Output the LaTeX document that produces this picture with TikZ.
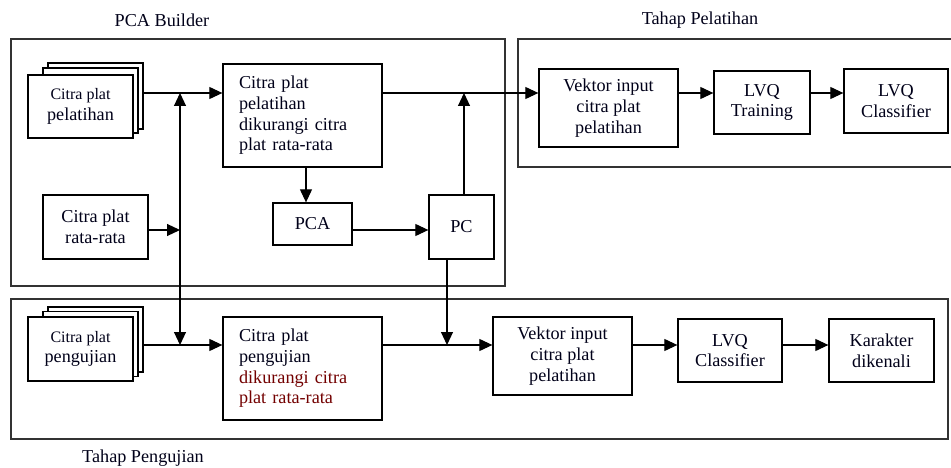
\documentclass[tikz,border=0pt]{standalone}
\usepackage{fontspec}
\setmainfont{Liberation Serif}
\usetikzlibrary{arrows.meta}
\begin{document}
\begin{tikzpicture}[x=1pt,y=-1pt,
  every node/.style={font=\fontsize{18.2}{20.7}\selectfont, text=black!90!blue},
  box/.style={draw, line width=1.3pt, inner sep=0pt, align=center},
  lbox/.style={draw, line width=1.3pt, inner ysep=0pt, inner xsep=16pt, align=left, text width=127pt, minimum height=103pt},
  frame/.style={draw=black!80, line width=1.5pt},
  arr/.style={line width=1.1pt, -{Triangle[length=13pt,width=12pt]}},
  darr/.style={line width=1.1pt, {Triangle[length=13pt,width=12pt]}-{Triangle[length=13pt,width=12pt]}}]
\useasboundingbox (0,0) rectangle (951,468);
\fill[white] (0,0) rectangle (951,468);
% frames
\draw[frame] (11,39) rectangle (505,286);
\draw[frame] (518,39) rectangle (955,167);
\draw[frame] (11,299) rectangle (948,439);
\node (lab1) at (162,20) {PCA Builder};
\node (lab2) at (700,20) {Tahap Pelatihan};
\node (lab3) at (143,458) {Tahap Pengujian};
% reference coordinates
\coordinate (r1) at (0,93);
\coordinate (r2) at (0,345);
\coordinate (j1) at (180,93);
\coordinate (j2) at (180,345);
% stack 1
\node[box, fill=white, minimum width=95pt, minimum height=66pt] (s1c) at (95.5,96) {};
\node[box, fill=white, minimum width=95pt, minimum height=65pt] (s1b) at (90.5,100.5) {};
\node[box, fill=white, minimum width=105pt, minimum height=63pt] (s1) at (80.5,106.5) {{\fontsize{16}{20}\selectfont Citra plat}\\pelatihan};
% stack 2
\node[box, fill=white, minimum width=95pt, minimum height=65pt] (s2c) at (95.5,339.5) {};
\node[box, fill=white, minimum width=95pt, minimum height=65pt] (s2b) at (90.5,344) {};
\node[box, fill=white, minimum width=105pt, minimum height=64pt] (s2) at (80.5,349) {{\fontsize{16}{20}\selectfont Citra plat}\\pengujian};
% top boxes
\node[box, minimum width=105pt, minimum height=64pt] (avg) at (95.5,227) {Citra plat\\rata-rata};
\node[lbox] (sub1) at (302.5,115.5) {Citra plat\\pelatihan\\dikurangi citra\\plat rata-rata};
\node[box, minimum width=79pt, minimum height=42pt] (pca) at (312.5,224) {PCA};
\node[box, minimum width=65pt, minimum height=64pt] (pc) at (461.5,227) {PC};
\node[box, minimum width=139pt, minimum height=78pt] (vek1) at (608.5,108) {Vektor input\\citra plat\\pelatihan};
\node[box, minimum width=96pt, minimum height=63pt] (lvqt) at (762,102.5) {LVQ\\Training};
\node[box, minimum width=104pt, minimum height=64pt] (lvqc1) at (896,101) {LVQ\\Classifier};
% bottom boxes
\node[lbox] (sub2) at (302.5,368.5) {Citra plat\\pengujian\\\textcolor{red!45!black}{dikurangi citra}\\\textcolor{red!45!black}{plat rata-rata}};
\node[box, minimum width=139pt, minimum height=78pt] (vek2) at (562.5,356) {Vektor input\\citra plat\\pelatihan};
\node[box, minimum width=104pt, minimum height=63pt] (lvqc2) at (730,350.5) {LVQ\\Classifier};
\node[box, minimum width=105pt, minimum height=63pt] (kar) at (881.5,350.5) {Karakter\\dikenali};
% connectors top
\draw[arr] (s1c.east |- r1) -- (sub1.west |- r1);
\draw[darr] (j1) -- (j2);
\draw[arr] (avg.east |- 0,230) -- (j1 |- 0,230);
\draw[arr] ([xshift=-6.5pt]pca.north |- sub1.south) -- ([xshift=-6.5pt]pca.north);
\draw[arr] (pca.east |- 0,230) -- (pc.west |- 0,230);
\draw[arr] ([xshift=2.5pt]pc.north) -- ([xshift=2.5pt]pc.north |- r1);
\draw[arr] (sub1.east |- r1) -- (vek1.west |- r1);
\draw[arr] (vek1.east |- r1) -- (lvqt.west |- r1);
\draw[arr] (lvqt.east |- r1) -- (lvqc1.west |- r1);
% connectors bottom
\draw[arr] ([xshift=-14.5pt]pc.south) -- ([xshift=-14.5pt]pc.south |- r2);
\draw[arr] (s2c.east |- r2) -- (sub2.west |- r2);
\draw[arr] (sub2.east |- r2) -- (vek2.west |- r2);
\draw[arr] (vek2.east |- r2) -- (lvqc2.west |- r2);
\draw[arr] (lvqc2.east |- r2) -- (kar.west |- r2);
\end{tikzpicture}
\end{document}
